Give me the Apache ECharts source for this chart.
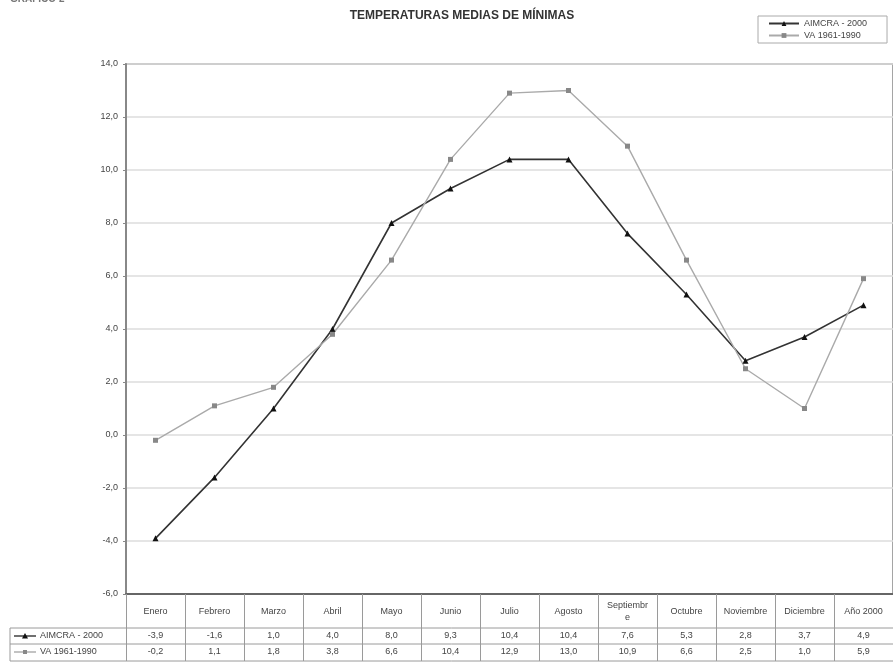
<!DOCTYPE html>
<html><head><meta charset="utf-8">
<script src="https://cdn.jsdelivr.net/npm/echarts@6/dist/echarts.min.js"></script>
<style>html,body{margin:0;padding:0;background:#fff}#c{width:893px;height:664px}</style>
</head><body><div id="c"></div>
<script>
const categories = ['Enero','Febrero','Marzo','Abril','Mayo','Junio','Julio','Agosto','Septiembre','Octubre','Noviembre','Diciembre','Año 2000'];
const aimcra = [-3.9,-1.6,1.0,4.0,8.0,9.3,10.4,10.4,7.6,5.3,2.8,3.7,4.9];
const va = [-0.2,1.1,1.8,3.8,6.6,10.4,12.9,13.0,10.9,6.6,2.5,1.0,5.9];
const seriesNames = ['AIMCRA - 2000','VA 1961-1990'];
const yMin = -6, yMax = 14, yStep = 2;

const fmt = v => v.toFixed(1).replace('.', ',');
const FONT = 'Liberation Sans, Arial, sans-serif';
const chart = echarts.init(document.getElementById('c'));
const gridL = 126, gridT = 64, gridW = 770, gridH = 530;
const tableLine = '#9a9a9a';

chart.setOption({
  animation: false,
  textStyle: { fontFamily: FONT },
  title: {
    text: 'TEMPERATURAS MEDIAS DE MÍNIMAS',
    left: 457, top: 5, textAlign: 'center',
    textStyle: { fontSize: 12, fontWeight: 'bold', color: '#333', fontFamily: FONT }
  },
  legend: {
    orient: 'vertical', left: 758, top: 16,
    borderColor: '#aaa', borderWidth: 1, padding: [3, 20, 3, 10],
    itemGap: 3, itemWidth: 30, itemHeight: 6,
    textStyle: { fontSize: 9, color: '#444' },
    data: seriesNames
  },
  grid: { left: gridL, top: gridT, width: gridW, height: gridH, show: true, borderColor: '#888', borderWidth: 1.5 },
  xAxis: [
    {
      type: 'category', data: categories, boundaryGap: true, position: 'bottom',
      axisLine: { onZero: false, lineStyle: { color: '#666', width: 2 } },
      axisTick: { show: true, length: 67, lineStyle: { color: tableLine, width: 1 } },
      axisLabel: {
        interval: 0, margin: 18, verticalAlign: 'middle', fontSize: 9, color: '#444', lineHeight: 12,
        formatter: s => s.length > 9 ? s.slice(0, 9) + '\n' + s.slice(9) : s
      },
      splitLine: { show: false }
    },
    {
      type: 'category', data: categories, position: 'bottom', gridIndex: 0,
      axisLine: { show: false, onZero: false }, axisTick: { show: false }, splitLine: { show: false },
      axisLabel: { interval: 0, margin: 42, verticalAlign: 'middle', fontSize: 9, color: '#444',
        formatter: (s, i) => fmt(aimcra[i]) }
    },
    {
      type: 'category', data: categories, position: 'bottom', gridIndex: 0,
      axisLine: { show: false, onZero: false }, axisTick: { show: false }, splitLine: { show: false },
      axisLabel: { interval: 0, margin: 58, verticalAlign: 'middle', fontSize: 9, color: '#444',
        formatter: (s, i) => fmt(va[i]) }
    }
  ],
  yAxis: {
    type: 'value', min: yMin, max: yMax, interval: yStep,
    axisLine: { show: true, lineStyle: { color: '#888', width: 2 } },
    axisTick: { show: true, length: 3, lineStyle: { color: '#888' } },
    axisLabel: { formatter: v => fmt(v), fontSize: 9, color: '#444', margin: 8 },
    splitLine: { lineStyle: { color: '#dcdcdc', width: 1.5 } }
  },
  series: [
    {
      name: seriesNames[0], type: 'line', data: aimcra, xAxisIndex: 0,
      symbol: 'triangle', symbolSize: 6,
      lineStyle: { color: '#333', width: 1.6 },
      itemStyle: { color: '#111' }
    },
    {
      name: seriesNames[1], type: 'line', data: va, xAxisIndex: 0,
      symbol: 'rect', symbolSize: 5,
      lineStyle: { color: '#aaa', width: 1.4 },
      itemStyle: { color: '#888' }
    }
  ],
  graphic: [
    { type: 'text', left: 10, top: -6, style: { text: 'GRÁFICO 2', font: 'bold 10px ' + FONT, fill: '#777' } },
    { type: 'line', shape: { x1: 10, y1: 628, x2: 893, y2: 628 }, style: { stroke: tableLine, lineWidth: 1 } },
    { type: 'line', shape: { x1: 10, y1: 644, x2: 893, y2: 644 }, style: { stroke: tableLine, lineWidth: 1 } },
    { type: 'line', shape: { x1: 10, y1: 661, x2: 893, y2: 661 }, style: { stroke: tableLine, lineWidth: 1 } },
    { type: 'line', shape: { x1: 10, y1: 628, x2: 10, y2: 661 }, style: { stroke: tableLine, lineWidth: 1 } },
    { type: 'line', shape: { x1: 14, y1: 636, x2: 36, y2: 636 }, style: { stroke: '#333', lineWidth: 1.4 } },
    { type: 'polygon', shape: { points: [[25, 633], [28, 638.5], [22, 638.5]] }, style: { fill: '#111' } },
    { type: 'text', left: 40, top: 631, style: { text: seriesNames[0], font: '9px ' + FONT, fill: '#444' } },
    { type: 'line', shape: { x1: 14, y1: 652, x2: 36, y2: 652 }, style: { stroke: '#aaa', lineWidth: 1.4 } },
    { type: 'rect', shape: { x: 23, y: 650, width: 4, height: 4 }, style: { fill: '#888' } },
    { type: 'text', left: 40, top: 647, style: { text: seriesNames[1], font: '9px ' + FONT, fill: '#444' } }
  ]
});
</script>
</body></html>
